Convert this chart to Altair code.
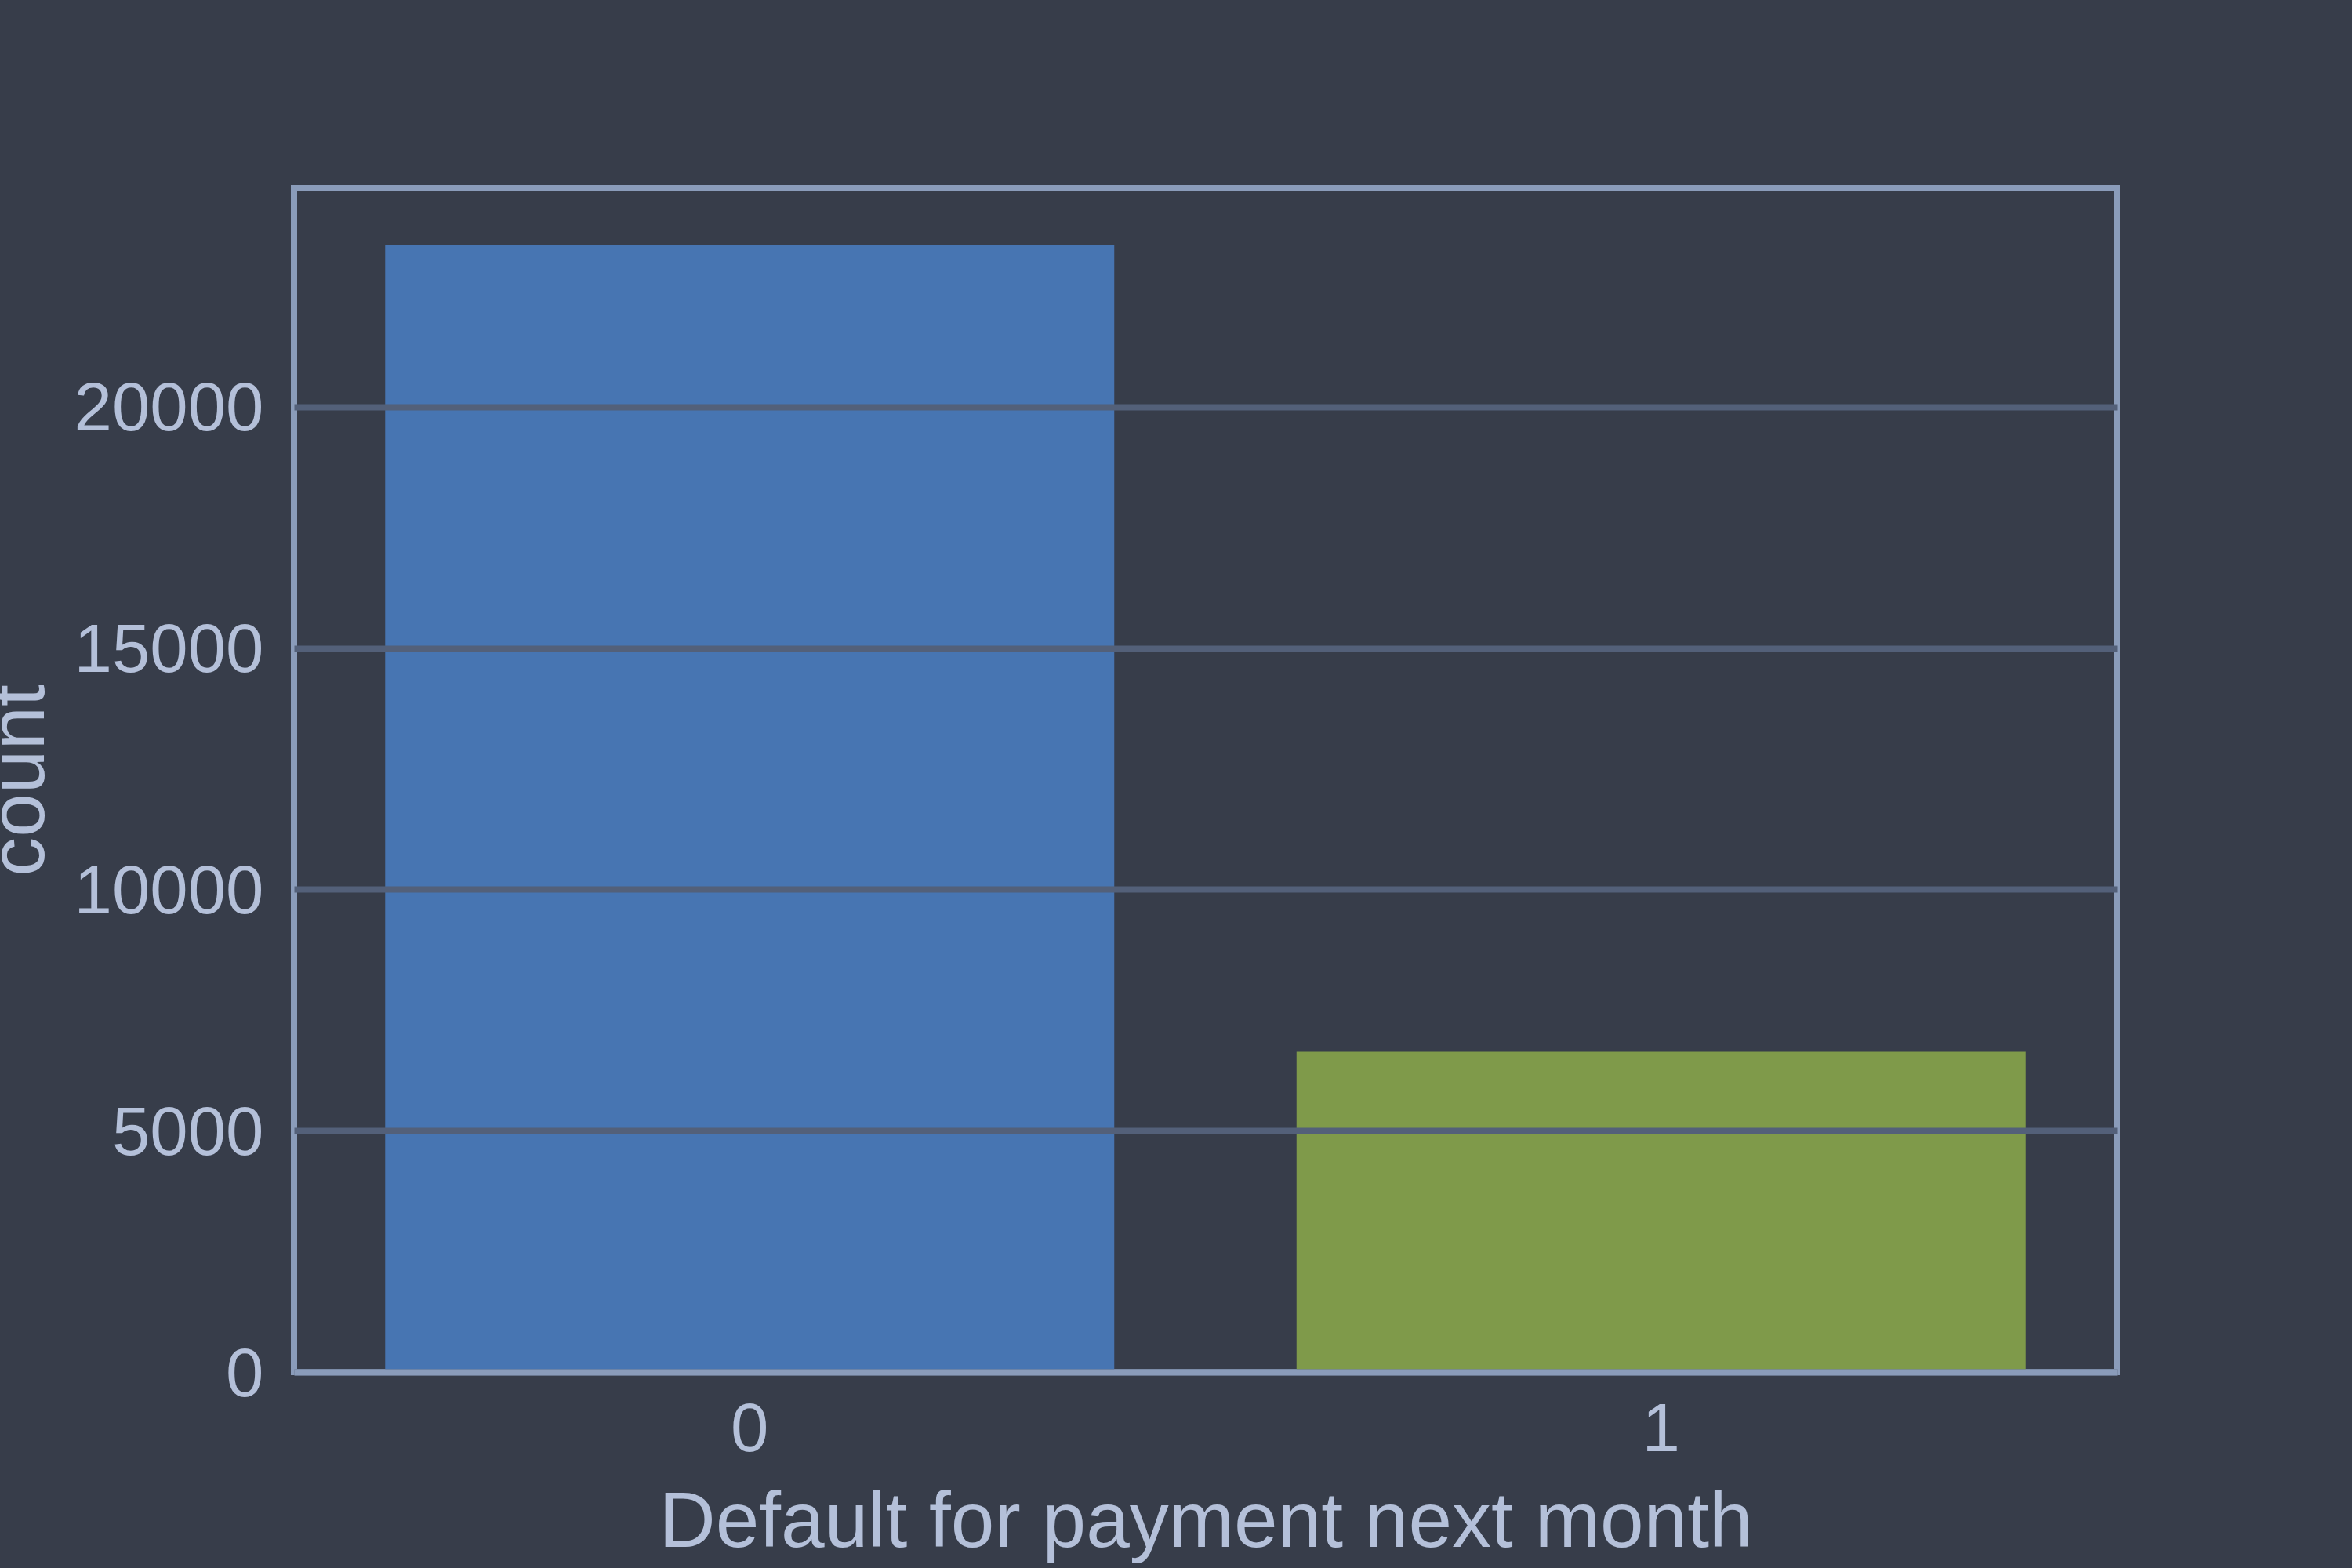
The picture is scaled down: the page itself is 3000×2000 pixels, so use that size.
import altair as alt
import pandas as pd

categories = ["0", "1"]
counts = [23364, 6636]
bar_colors = ["#4775b2", "#7f9a4a"]
y_ticks = [0, 5000, 10000, 15000, 20000]

BG = "#373d4a"
FRAME = "#8a9cba"
GRID = "#536079"
TEXT = "#b4c0d9"
FONT = "Liberation Sans"

df = pd.DataFrame({"default": categories, "count": counts})

chart = (
    alt.Chart(df)
    .mark_bar()
    .encode(
        x=alt.X(
            "default:N",
            sort=categories,
            scale=alt.Scale(paddingInner=0.2, paddingOuter=0.1),
            axis=alt.Axis(
                title="Default for payment next month",
                labelAngle=0,
                ticks=False,
                tickSize=0,
                labelPadding=31,
                labelFontSize=87,
                domain=True,
                domainColor=FRAME,
                domainWidth=8,
                grid=False,
                titleBaseline="alphabetic",
                titleY=222,
                titleFontSize=100,
                zindex=2,
            ),
        ),
        y=alt.Y(
            "count:Q",
            scale=alt.Scale(domain=[0, 24532], nice=False, zero=True),
            axis=alt.Axis(
                title="count",
                values=y_ticks,
                format="d",
                ticks=False,
                tickSize=0,
                labelPadding=39,
                labelOffset=4,
                labelFontSize=87,
                labelLimit=0,
                domain=False,
                grid=True,
                gridColor=GRID,
                gridWidth=8,
                titleAngle=270,
                titleBaseline="alphabetic",
                titleAlign="center",
                titleX=-320,
                titleY=755,
                titleFontSize=100,
                zindex=1,
            ),
        ),
        color=alt.Color(
            "default:N",
            scale=alt.Scale(domain=categories, range=bar_colors),
            legend=None,
        ),
    )
    .properties(
        width=2325,
        height=1510,
        background=BG,
        autosize=alt.AutoSizeParams(type="none"),
        padding={"left": 375, "top": 240, "right": 300, "bottom": 250},
    )
    .configure_view(stroke=FRAME, strokeWidth=8, fill=BG)
    .configure_axis(
        labelFont=FONT,
        titleFont=FONT,
        labelColor=TEXT,
        titleColor=TEXT,
        titleFontWeight="normal",
        labelOverlap=False,
        labelFlush=False,
        labelLimit=0,
    )
)

chart.save("out.html", embed_options={"renderer": "svg", "actions": False})
